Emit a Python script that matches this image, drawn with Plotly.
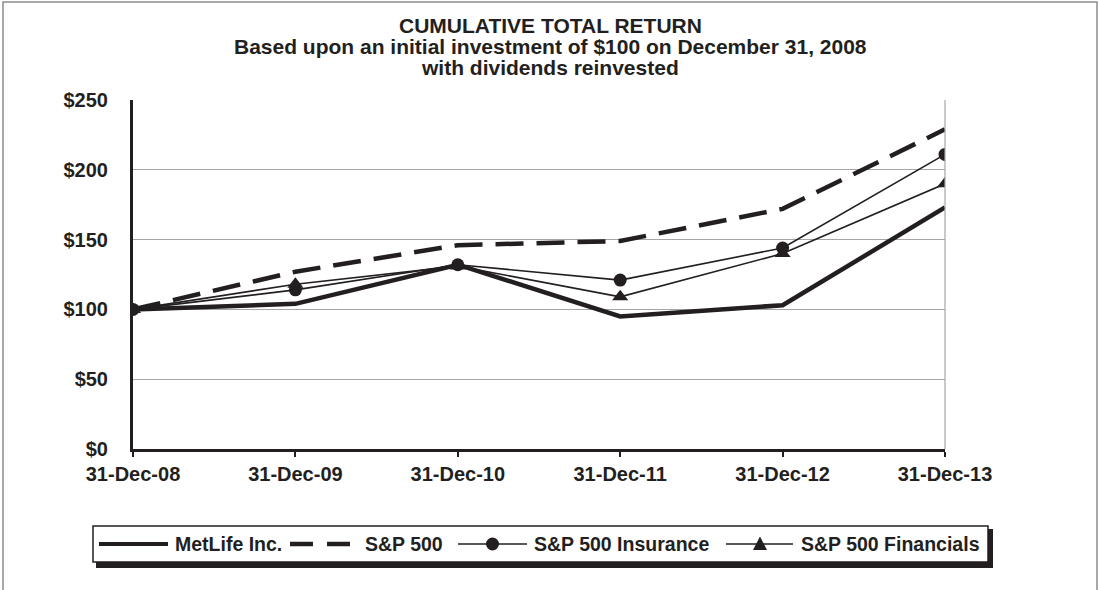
import plotly.graph_objects as go

# ---- data ----
dates = ["31-Dec-08", "31-Dec-09", "31-Dec-10", "31-Dec-11", "31-Dec-12", "31-Dec-13"]
metlife = [100, 104, 132, 95, 103, 173]
sp500 = [100, 127, 146, 149, 172, 229]
sp_insurance = [100, 114, 132, 121, 144, 211]
sp_financials = [100, 118, 131, 109, 140, 190]
series_names = ["MetLife Inc.", "S&P 500", "S&P 500 Insurance", "S&P 500 Financials"]
y_ticks = [0, 50, 100, 150, 200, 250]
y_tick_labels = ["$0", "$50", "$100", "$150", "$200", "$250"]

INK = "#231f20"
GRID = "#a6a6a6"
FONT = "Arial, Liberation Sans, sans-serif"

W, H = 1098, 590
L, R, T, B = 133, 945, 100, 449


def px(x):
    return (x - L) / (R - L)


def py(y):
    return (B - y) / (B - T)


fig = go.Figure()
fig.add_trace(go.Scatter(x=dates, y=metlife, name=series_names[0], mode="lines",
                         line=dict(color=INK, width=4.5)))
fig.add_trace(go.Scatter(x=dates, y=sp500, name=series_names[1], mode="lines",
                         line=dict(color=INK, width=4.5, dash="28px,13px")))
fig.add_trace(go.Scatter(x=dates, y=sp_insurance, name=series_names[2], mode="lines+markers",
                         line=dict(color=INK, width=1.6),
                         marker=dict(symbol="circle", size=13, color=INK)))
fig.add_trace(go.Scatter(x=dates, y=sp_financials, name=series_names[3], mode="lines+markers",
                         line=dict(color=INK, width=1.6),
                         marker=dict(symbol="triangle-up", size=14, color=INK)))

shapes = []
annotations = []

# page frame
shapes.append(dict(type="rect", xref="paper", yref="paper",
                   x0=px(3), x1=px(1097), y0=py(600), y1=py(2),
                   line=dict(color="#8c8c8c", width=1.5), layer="below"))
# right border of plot area
shapes.append(dict(type="line", xref="paper", yref="paper",
                   x0=1, x1=1, y0=0, y1=1, line=dict(color=GRID, width=1.2)))

# title lines
title_lines = ["CUMULATIVE TOTAL RETURN",
               "Based upon an initial investment of $100 on December 31, 2008",
               "with dividends reinvested"]
for txt, yc in zip(title_lines, [25.5, 46.5, 68]):
    annotations.append(dict(text=txt, xref="paper", yref="paper",
                            x=px(550), y=py(yc), xanchor="center", yanchor="middle",
                            showarrow=False,
                            font=dict(family=FONT, size=21, color=INK, weight="bold")))

# custom legend
shapes.append(dict(type="rect", xref="paper", yref="paper",
                   x0=px(96), x1=px(993), y0=py(568), y1=py(529),
                   fillcolor=INK, line=dict(width=0)))
shapes.append(dict(type="rect", xref="paper", yref="paper",
                   x0=px(93), x1=px(988), y0=py(562), y1=py(526),
                   fillcolor="white", line=dict(color=INK, width=1.5)))
LY = 544
# MetLife sample
shapes.append(dict(type="line", xref="paper", yref="paper", x0=px(99), x1=px(168),
                   y0=py(LY), y1=py(LY), line=dict(color=INK, width=4)))
# S&P 500 sample (two dashes)
shapes.append(dict(type="line", xref="paper", yref="paper", x0=px(290), x1=px(313),
                   y0=py(LY), y1=py(LY), line=dict(color=INK, width=4.5)))
shapes.append(dict(type="line", xref="paper", yref="paper", x0=px(327), x1=px(350),
                   y0=py(LY), y1=py(LY), line=dict(color=INK, width=4.5)))
# Insurance sample
shapes.append(dict(type="line", xref="paper", yref="paper", x0=px(458), x1=px(527),
                   y0=py(LY), y1=py(LY), line=dict(color=INK, width=1.6)))
shapes.append(dict(type="circle", xref="paper", yref="paper",
                   x0=px(492.5 - 6.5), x1=px(492.5 + 6.5), y0=py(LY + 6.5), y1=py(LY - 6.5),
                   fillcolor=INK, line=dict(color=INK, width=0)))
# Financials sample
shapes.append(dict(type="line", xref="paper", yref="paper", x0=px(726), x1=px(793),
                   y0=py(LY), y1=py(LY), line=dict(color=INK, width=1.6)))
cx = 760
shapes.append(dict(type="path", xref="paper", yref="paper",
                   path="M %f %f L %f %f L %f %f Z" % (px(cx - 7), py(LY + 6), px(cx + 7), py(LY + 6),
                                                      px(cx), py(LY - 7.5)),
                   fillcolor=INK, line=dict(color=INK, width=0)))
for name, x0 in zip(series_names, [173, 363, 532, 799]):
    annotations.append(dict(text=name, xref="paper", yref="paper",
                            x=px(x0), y=py(LY), xanchor="left", yanchor="middle",
                            showarrow=False,
                            font=dict(family=FONT, size=19.5, color=INK, weight="bold")))

fig.update_layout(
    width=W, height=H,
    margin=dict(l=L, r=W - R, t=T, b=H - B),
    paper_bgcolor="white", plot_bgcolor="white",
    showlegend=False, hovermode=False,
    shapes=shapes, annotations=annotations,
    font=dict(family=FONT, color=INK),
    xaxis=dict(type="category", range=[0, len(dates) - 1], showgrid=False,
               showline=True, linecolor=INK, linewidth=3,
               ticks="outside", ticklen=5, tickwidth=2, tickcolor=INK,
               tickfont=dict(family=FONT, size=20, color=INK, weight="bold"),
               zeroline=False),
    yaxis=dict(range=[0, 250], tickmode="array", tickvals=y_ticks, ticktext=y_tick_labels,
               showgrid=True, gridcolor=GRID, gridwidth=1,
               showline=True, linecolor=INK, linewidth=3, zeroline=False,
               ticks="", ticklabelstandoff=18,
               tickfont=dict(family=FONT, size=20, color=INK, weight="bold")),
)

fig.write_html("out.html", config={"displayModeBar": False},
               post_script="document.body.style.margin='0';document.body.style.padding='0';")
